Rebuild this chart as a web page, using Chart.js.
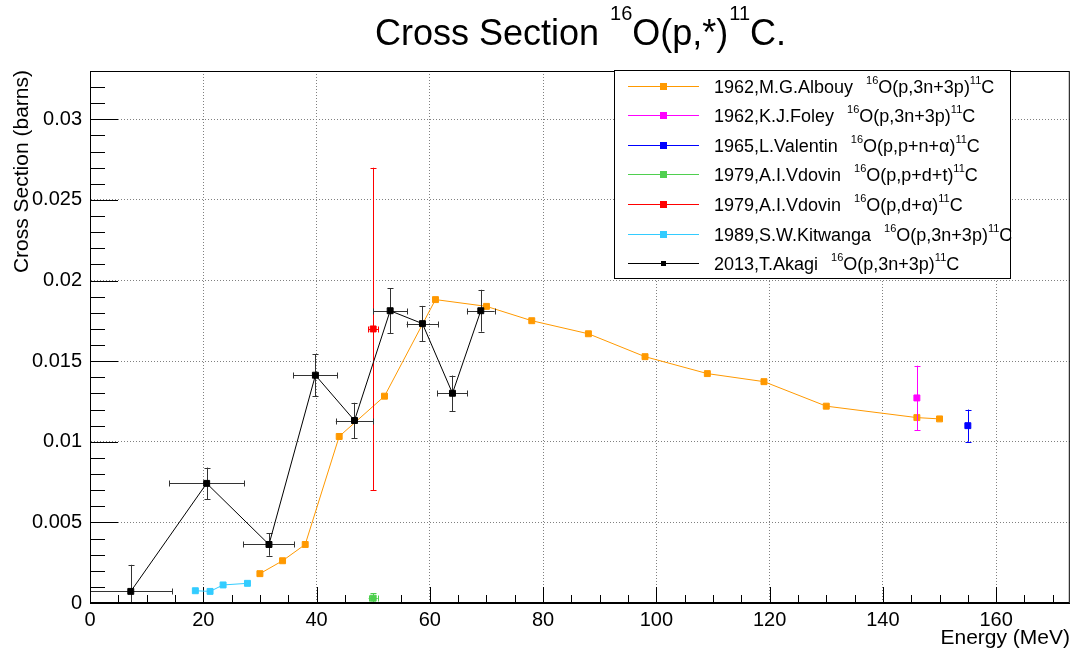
<!DOCTYPE html>
<html>
<head>
<meta charset="utf-8">
<script src="https://cdn.jsdelivr.net/npm/chart.js@4/dist/chart.umd.min.js"></script>
<style>
  body { margin: 0; background: #fff; }
</style>
</head>
<body>
<canvas id="xsChart" width="1075" height="655"></canvas>
<script>
// energies in MeV, cross sections in barns
const albouyE  = [30, 34, 38, 44, 52, 61, 70, 78, 88, 98, 109, 119, 130, 146, 150];
const albouyXs = [0.00182, 0.00262, 0.00363, 0.01033, 0.01283, 0.01882, 0.0184, 0.01751, 0.0167, 0.01528, 0.01423, 0.01373, 0.01221, 0.0115, 0.01142];

const foleyE = [146];
const foleyXs = [0.01272];
const foleyErr = [0.002];

const valentinE = [155];
const valentinXs = [0.0110];
const valentinErr = [0.001];

const vdovinGreenE = [50];
const vdovinGreenXs = [0.0003];
const vdovinGreenEx = [0.8];
const vdovinGreenEy = [0.0003];

const vdovinRedE = [50];
const vdovinRedXs = [0.0170];
const vdovinRedEx = [0.9];
const vdovinRedEy = [0.010];

const kitwangaE = [18.6, 21.2, 23.5, 27.8];
const kitwangaXs = [0.00076, 0.00072, 0.00112, 0.00122];

const akagiE  = [7.2, 20.6, 31.6, 39.8, 46.7, 53.0, 58.7, 64.0, 69.0];
const akagiXs = [0.00072, 0.00742, 0.00363, 0.01413, 0.01132, 0.01813, 0.01733, 0.01301, 0.01813];
const akagiEx = [7.3, 6.6, 4.5, 3.9, 3.3, 3.0, 2.8, 2.65, 2.45];
const akagiEy = [0.00165, 0.00098, 0.0007, 0.0013, 0.0011, 0.0014, 0.0011, 0.0011, 0.0013];

const xTicks = [0, 20, 40, 60, 80, 100, 120, 140, 160];
const xTickLabels = ['0', '20', '40', '60', '80', '100', '120', '140', '160'];
const yTicks = [0, 0.005, 0.01, 0.015, 0.02, 0.025, 0.03];
const yTickLabels = ['0', '0.005', '0.01', '0.015', '0.02', '0.025', '0.03'];

const titleText = 'Cross Section ^{16}O(p,*)^{11}C.';
const FONT = '"Liberation Sans", Arial, Helvetica, sans-serif';

function series(label, reaction, color, xs, ys, ex, ey, line, order) {
  return {
    label: label,
    reaction: reaction,
    data: xs.map((x, i) => ({ x: x, y: ys[i] })),
    errX: ex,
    errY: ey,
    borderColor: color,
    backgroundColor: color,
    pointBackgroundColor: color,
    pointBorderColor: color,
    pointStyle: 'rect',
    pointRadius: 4.2,
    pointBorderWidth: 1,
    borderWidth: 1,
    showLine: line,
    order: order
  };
}

const datasets = [
  series('1962,M.G.Albouy', '^{16}O(p,3n+3p)^{11}C', '#ff9900', albouyE, albouyXs, null, null, true, 7),
  series('1962,K.J.Foley', '^{16}O(p,3n+3p)^{11}C', '#ff00ff', foleyE, foleyXs, null, foleyErr, false, 6),
  series('1965,L.Valentin', '^{16}O(p,p+n+\u03b1)^{11}C', '#0000ff', valentinE, valentinXs, null, valentinErr, false, 5),
  series('1979,A.I.Vdovin', '^{16}O(p,p+d+t)^{11}C', '#4fcf4f', vdovinGreenE, vdovinGreenXs, vdovinGreenEx, vdovinGreenEy, false, 4),
  series('1979,A.I.Vdovin', '^{16}O(p,d+\u03b1)^{11}C', '#ff0000', vdovinRedE, vdovinRedXs, vdovinRedEx, vdovinRedEy, false, 3),
  series('1989,S.W.Kitwanga', '^{16}O(p,3n+3p)^{11}C', '#33ccff', kitwangaE, kitwangaXs, null, null, true, 2),
  series('2013,T.Akagi', '^{16}O(p,3n+3p)^{11}C', '#000000', akagiE, akagiXs, akagiEx, akagiEy, true, 1)
];

// text with ^{..} superscripts
function drawRich(ctx, text, x, y, size, supSize, rise, supGap) {
  const parts = text.split(/\^\{([^}]*)\}/);
  let cx = x;
  parts.forEach((p, i) => {
    const sup = i % 2 === 1;
    if (sup) cx += supGap || 0;
    ctx.font = (sup ? supSize : size) + 'px ' + FONT;
    ctx.fillText(p, cx, sup ? y - rise : y);
    cx += ctx.measureText(p).width;
  });
  return cx;
}

const crisp = v => Math.round(v) + 0.5;

const rootStyle = {
  id: 'rootStyle',
  beforeDatasetsDraw(chart) {
    const { ctx, chartArea: a, scales: { x, y } } = chart;
    ctx.save();
    ctx.strokeStyle = '#000';
    ctx.lineWidth = 1;
    ctx.beginPath();
    for (let i = 0; i <= 33; i++) {
      const py = crisp(y.getPixelForValue(i / 1000));
      const len = i % 5 === 0 ? 28 : 15;
      ctx.moveTo(a.left, py);
      ctx.lineTo(a.left + len, py);
    }
    for (let i = 0; i * 5 <= 173; i++) {
      const px = crisp(x.getPixelForValue(i * 5));
      const len = i % 4 === 0 ? 16 : 8;
      ctx.moveTo(px, a.bottom);
      ctx.lineTo(px, a.bottom - len);
    }
    ctx.stroke();
    ctx.restore();
  },
  beforeDatasetDraw(chart, args) {
    const ds = chart.data.datasets[args.index];
    if (!ds.errX && !ds.errY) return;
    const { ctx, chartArea: a, scales: { x, y } } = chart;
    ctx.save();
    ctx.beginPath();
    ctx.rect(a.left, a.top, a.right - a.left, a.bottom - a.top);
    ctx.clip();
    ctx.strokeStyle = ds.borderColor === '#000000' ? '#333' : ds.borderColor;
    ctx.lineWidth = 1;
    ctx.beginPath();
    ds.data.forEach((d, i) => {
      const px = crisp(x.getPixelForValue(d.x));
      const py = crisp(y.getPixelForValue(d.y));
      if (ds.errX) {
        const x1 = x.getPixelForValue(d.x - ds.errX[i]);
        const x2 = x.getPixelForValue(d.x + ds.errX[i]);
        ctx.moveTo(x1, py); ctx.lineTo(x2, py);
        ctx.moveTo(crisp(x1), py - 3); ctx.lineTo(crisp(x1), py + 3);
        ctx.moveTo(crisp(x2), py - 3); ctx.lineTo(crisp(x2), py + 3);
      }
      if (ds.errY) {
        const y1 = y.getPixelForValue(d.y - ds.errY[i]);
        const y2 = y.getPixelForValue(d.y + ds.errY[i]);
        ctx.moveTo(px, y1); ctx.lineTo(px, y2);
        ctx.moveTo(px - 3, crisp(y1)); ctx.lineTo(px + 3, crisp(y1));
        ctx.moveTo(px - 3, crisp(y2)); ctx.lineTo(px + 3, crisp(y2));
      }
    });
    ctx.stroke();
    ctx.restore();
  },
  afterDraw(chart) {
    const { ctx, chartArea: a } = chart;
    ctx.save();
    // frame
    ctx.strokeStyle = '#000';
    ctx.lineWidth = 1;
    ctx.strokeRect(a.left + 0.5, a.top + 0.5, a.right - a.left - 1, a.bottom - a.top - 1);

    ctx.fillStyle = '#000';
    ctx.textBaseline = 'alphabetic';
    ctx.textAlign = 'left';
    drawRich(ctx, titleText, 375, 45, 36, 20, 25, 1);

    ctx.font = '21px ' + FONT;
    ctx.textAlign = 'right';
    ctx.fillText('Energy (MeV)', 1070, 644);
    ctx.save();
    ctx.translate(28, 70);
    ctx.rotate(-Math.PI / 2);
    ctx.fillText('Cross Section (barns)', 0, 0);
    ctx.restore();

    // legend
    ctx.fillStyle = '#fff';
    ctx.fillRect(614.5, 70.5, 396, 208);
    ctx.strokeStyle = '#000';
    ctx.strokeRect(614.5, 70.5, 396, 208);
    ctx.textAlign = 'left';
    chart.data.datasets.forEach((ds, i) => {
      const ry = Math.round(85.5 + i * 29.6) + 0.5;
      ctx.strokeStyle = ds.borderColor;
      ctx.beginPath();
      ctx.moveTo(628, ry);
      ctx.lineTo(699, ry);
      ctx.stroke();
      ctx.fillStyle = ds.borderColor;
      const s = i === 6 ? 5 : 7;
      ctx.fillRect(663.5 - s / 2, ry - s / 2, s, s);
      ctx.fillStyle = '#000';
      ctx.font = '18px ' + FONT;
      ctx.fillText(ds.label, 714, ry + 6.5);
      const w = ctx.measureText(ds.label).width;
      drawRich(ctx, ds.reaction, 714 + w + 13, ry + 6.5, 18, 11, 9, 0);
    });
    ctx.restore();
  }
};

new Chart(document.getElementById('xsChart').getContext('2d'), {
  type: 'scatter',
  data: { datasets: datasets },
  options: {
    responsive: false,
    animation: false,
    devicePixelRatio: 1,
    layout: { padding: { left: 0, right: 4, top: 71, bottom: 0 } },
    plugins: {
      legend: { display: false },
      tooltip: { enabled: false },
      title: { display: false }
    },
    scales: {
      x: {
        type: 'linear',
        min: 0,
        max: 173,
        afterBuildTicks: s => { s.ticks = xTicks.map(v => ({ value: v })); },
        afterFit: s => { s.height = 52; },
        ticks: {
          padding: 5,
          color: '#000',
          autoSkip: false,
          maxRotation: 0,
          font: { family: FONT, size: 20 },
          callback: (v, i) => xTickLabels[i]
        },
        grid: { color: '#808080', lineWidth: 1, drawTicks: false },
        border: { display: true, color: '#000', width: 1, dash: [1, 2] }
      },
      y: {
        type: 'linear',
        min: 0,
        max: 0.033,
        afterBuildTicks: s => { s.ticks = yTicks.map(v => ({ value: v })); },
        afterFit: s => { s.width = 90; },
        ticks: {
          padding: 8,
          color: '#000',
          autoSkip: false,
          font: { family: FONT, size: 20 },
          callback: (v, i) => yTickLabels[i]
        },
        grid: { color: '#808080', lineWidth: 1, drawTicks: false },
        border: { display: true, color: '#000', width: 1, dash: [1, 2] }
      }
    }
  },
  plugins: [rootStyle]
});
</script>
</body>
</html>
